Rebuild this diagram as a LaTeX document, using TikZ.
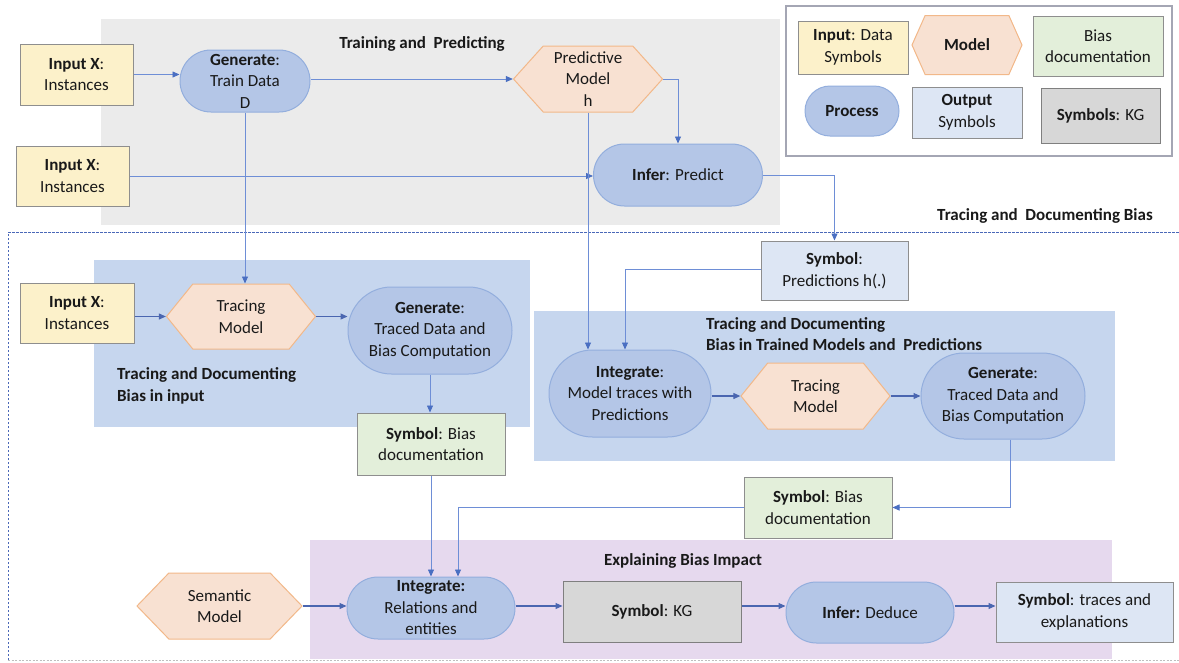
\documentclass[tikz,border=0pt]{standalone}
\usepackage{fontspec}
\setmainfont{Carlito}
\usetikzlibrary{shapes.misc,shapes.symbols,arrows.meta}

\definecolor{inyellow}{HTML}{FCF1CA}
\definecolor{boxedge}{HTML}{8E8E8E}
\definecolor{modfill}{HTML}{F8E1D2}
\definecolor{modedge}{HTML}{F2B889}
\definecolor{procfill}{HTML}{B4C6E7}
\definecolor{procedge}{HTML}{93AEDD}
\definecolor{outblue}{HTML}{DDE6F4}
\definecolor{biasgreen}{HTML}{E3EFDA}
\definecolor{kggray}{HTML}{D7D7D7}
\definecolor{kgedge}{HTML}{7F7F7F}
\definecolor{regiongray}{HTML}{EBEBEB}
\definecolor{regionblue}{HTML}{C6D6EE}
\definecolor{regionpurple}{HTML}{E6D9EE}
\definecolor{flowblue}{HTML}{6E8ED6}
\definecolor{flowdark}{HTML}{4A66B0}
\definecolor{headblue}{HTML}{4A6FC2}
\definecolor{legendedge}{HTML}{A4A6B4}
\definecolor{dashblue}{HTML}{4A68B8}

\newcommand\diafont{\fontsize{17}{21.5}\selectfont}

\tikzset{
  every node/.style={font=\diafont, text=black!90},
  wh/.style 2 args={minimum width=#1pt, minimum height=#2pt},
  box/.style={rectangle, draw=boxedge, line width=1pt, align=center, inner sep=0pt},
  inbox/.style={box, fill=inyellow},
  outbox/.style={box, fill=outblue},
  biasbox/.style={box, fill=biasgreen},
  kgbox/.style={box, fill=kggray, draw=kgedge},
  procbox/.style={rounded rectangle, draw=procedge, fill=procfill, line width=1pt,
    align=center, inner sep=0pt},
  modelbox/.style={signal, signal to=west and east, signal pointer angle=#1,
    draw=modedge, fill=modfill, line width=1pt, align=center, inner sep=0pt},
  modelbox/.default=100,
  regtitle/.style={font=\diafont\bfseries, inner sep=0pt},
  flow/.style={draw=flowblue, line width=0.8pt,
    -{Triangle[length=7pt,width=6pt,color=headblue]}},
  boldflow/.style={draw=flowdark, line width=1.1pt,
    -{Triangle[length=7pt,width=6pt,color=flowdark]}},
}

\begin{document}
\begin{tikzpicture}[x=1pt,y=-1pt]
\useasboundingbox (0,0) rectangle (1179,662);
\clip (0,0) rectangle (1179,662);
\fill[white] (0,0) rectangle (1179,662);

% ---------- background regions ----------
\fill[regiongray] (101,19) rectangle (780,225);
\draw[dashblue, dashed, line width=0.7pt, dash pattern=on 2.5pt off 1.5pt] (8,660) -- (8,232) -- (1190,232);
\draw[black!25, dashed, line width=0.6pt, dash pattern=on 2pt off 1.5pt] (8,660) -- (1190,660);
\fill[regionblue] (94,260) rectangle (530,427);
\fill[regionblue] (534,311) rectangle (1115,461);
\fill[regionpurple] (310,540) rectangle (1112,659);

% ---------- region titles ----------
\node[regtitle] (ttrain) at (422,44) {Training and\ \ Predicting};
\node[regtitle] (ttrace) at (1045,216) {Tracing and\ \ Documenting Bias};
\node[regtitle, anchor=west, align=left] (tinput) at (117,386)
  {Tracing and Documenting\\Bias in input};
\node[regtitle, anchor=west, align=left] (tmodel) at (706,334)
  {Tracing and Documenting\\Bias in Trained Models and\ \ Predictions};
\node[regtitle] (texpl) at (683,561) {Explaining Bias Impact};

% ---------- legend ----------
\draw[legendedge, line width=1.2pt, fill=white] (786,6) rectangle (1172,156);
\node[inbox, wh={110}{53}] (lin) at (853,47.5) {\textbf{Input}: Data\\Symbols};
\node[modelbox=132, wh={110}{59}] (lmod) at (967,45) {\textbf{Model}};
\node[biasbox, wh={130}{60}] (lbias) at (1098,46) {Bias\\documentation};
\node[procbox, wh={94}{50}] (lproc) at (852,111) {\textbf{Process}};
\node[outbox, wh={110}{51}] (lout) at (967,112.5) {\textbf{Output}\\Symbols};
\node[kgbox, wh={119}{55}] (lkg) at (1100.5,115.5) {\textbf{Symbols}: KG};

% ---------- training and predicting ----------
\node[inbox, wh={113}{61}] (in1) at (76.5,74.5) {\textbf{Input X}:\\Instances};
\node[inbox, wh={113}{60}] (in2) at (72.5,176) {\textbf{Input X}:\\Instances};
\node[procbox, wh={130}{62}] (gen1) at (245,81) {\textbf{Generate}:\\Train Data\\D};
\node[modelbox=96, wh={149}{66}] (pred) at (588,79) {Predictive\\Model\\h};
\node[procbox, wh={169}{62}] (infer) at (678,175) {\textbf{Infer}: Predict};

% ---------- tracing bias in input ----------
\node[inbox, wh={114}{60}] (in3) at (77,313) {\textbf{Input X}:\\Instances};
\node[modelbox=102, wh={149}{65}] (trace1) at (241,316.5) {Tracing\\Model};
\node[procbox, wh={164}{87}] (gen2) at (430,330.5) {\textbf{Generate}:\\Traced Data and\\Bias Computation};
\node[biasbox, wh={148}{62}] (bias1) at (431,444) {\textbf{Symbol}: Bias\\documentation};

% ---------- tracing bias in trained models ----------
\node[outbox, wh={147}{59}] (sympred) at (834.5,270.5) {\textbf{Symbol}:\\Predictions h(.)};
\node[procbox, wh={162}{87}] (int1) at (630,393.5) {\textbf{Integrate}:\\Model traces with\\Predictions};
\node[modelbox=102, wh={149}{66}] (trace2) at (815.5,396) {Tracing\\Model};
\node[procbox, wh={164}{86}] (gen3) at (1003,396) {\textbf{Generate}:\\Traced Data and\\Bias Computation};
\node[biasbox, wh={148}{61}] (bias2) at (818,507.5) {\textbf{Symbol}: Bias\\documentation};

% ---------- explaining bias impact ----------
\node[modelbox=92, wh={165}{66}] (sem) at (219.5,606) {Semantic\\Model};
\node[procbox, wh={168}{62}] (int2) at (431,608) {\textbf{Integrate:}\\Relations and\\entities};
\node[kgbox, wh={178}{61}] (kg) at (652,611.5) {\textbf{Symbol}: KG};
\node[procbox, wh={168}{61}] (ded) at (870,612.5) {\textbf{Infer:} Deduce};
\node[outbox, wh={177}{60}] (symtr) at (1084.5,612) {\textbf{Symbol}: traces and\\explanations};

% ---------- connectors ----------
\draw[flow] (in1.east) -- (in1.east -| gen1.west);
\draw[flow] (gen1.east |- pred.west) -- (pred.west);
\draw[flow] (pred.east) -| (infer.north);
\draw[flow] (in2.east) -- (in2.east -| infer.west);
\draw[flow] (infer.east) -| (sympred.north);
\draw[flow] (gen1.south) -- (gen1.south |- trace1.north);
\draw[flow] (pred.south) -- (pred.south |- int1.north);

\draw[boldflow] (in3.east |- trace1.west) -- (trace1.west);
\draw[boldflow] (trace1.east) -- (trace1.east -| gen2.west);
\draw[flow] (gen2.south) -- (gen2.south |- bias1.north);

\draw[flow] ([yshift=1.5pt]sympred.west) -| ([xshift=-5pt]int1.north);
\draw[boldflow] (int1.east |- trace2.west) -- (trace2.west);
\draw[boldflow] (trace2.east) -- (trace2.east -| gen3.west);
\draw[flow] ([xshift=7pt]gen3.south) |- (bias2.east);
\draw[flow] (bias2.west) -| ([xshift=27pt]int2.north);
\draw[flow] (bias1.south) -- (bias1.south |- int2.north);

\draw[boldflow] (sem.east) -- (sem.east -| int2.west);
\draw[boldflow] (int2.east |- sem.east) -- (sem.east -| kg.west);
\draw[boldflow] (kg.east |- sem.east) -- (sem.east -| ded.west);
\draw[boldflow] (ded.east |- sem.east) -- (sem.east -| symtr.west);
\end{tikzpicture}
\end{document}
